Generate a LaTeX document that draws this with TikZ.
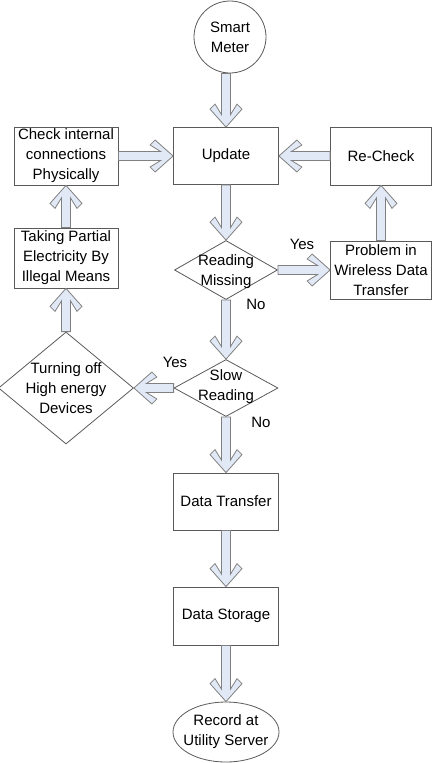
\documentclass[tikz,border=0pt]{standalone}
\usepackage{fontspec}
\setmainfont{Liberation Sans}
\usetikzlibrary{calc,shapes.geometric}
\definecolor{arrowfill}{RGB}{226,233,246}
\definecolor{arrowline}{RGB}{128,128,128}
\definecolor{boxline}{RGB}{90,90,90}

% hollow block arrow with a chevron head, from #1 to #2
\newcommand{\blockarrow}[2]{%
  \draw[blockarrow] ($(#1)!4.5pt!90:(#2)$) -- ($(#2)!12.5pt!(#1)!4.5pt!-90:(#1)$)
    -- ($(#2)!23pt!(#1)!11pt!-90:(#1)$) -- ($(#2)!18pt!(#1)!16pt!-90:(#1)$)
    -- (#2)
    -- ($(#2)!18pt!(#1)!16pt!90:(#1)$) -- ($(#2)!23pt!(#1)!11pt!90:(#1)$)
    -- ($(#2)!12.5pt!(#1)!4.5pt!90:(#1)$) -- ($(#1)!4.5pt!-90:(#2)$) -- cycle;}

\begin{document}
\begin{tikzpicture}[x=1pt, y=-1pt,
    txt/.style={font=\fontsize{15}{20}\selectfont, align=center},
    box/.style={txt, draw=boxline, line width=0.8pt, minimum height=58pt, inner sep=1pt},
    decision/.style={diamond, draw=boxline, line width=0.8pt, inner sep=0pt},
    blockarrow/.style={draw=arrowline, fill=arrowfill, line width=0.8pt, line join=miter}]
    \useasboundingbox (0,0) rectangle (436,763);

    % Start
    \node[circle, draw=boxline, line width=0.8pt, minimum size=72pt, inner sep=0pt, txt] (meter) at (230,37) {Smart\\Meter};

    % Top row
    \node[box, minimum width=104pt] (check) at (66,156) {Check internal\\connections\\Physically};
    \node[box, minimum width=105pt, minimum height=57pt] (update) at (226,156) {Update};
    \node[box, minimum width=101pt] (recheck) at (381,156) {Re-Check};

    % Reading missing
    \node[box, minimum width=104pt, minimum height=60pt] (taking) at (66,258) {Taking Partial\\Electricity By\\Illegal Means};
    \node[decision, minimum width=103pt, minimum height=59pt] (miss) at (226,270) {};
    \node[txt] (misstext) at (226,272) {Reading\\Missing};
    \node[box, minimum width=101pt] (problem) at (381,270) {Problem in\\Wireless Data\\Transfer};

    % Slow reading
    \node[decision, minimum width=135pt, minimum height=112pt] (turn) at (66,388) {};
    \node[txt] (turntext) at (66,388) {Turning off\\High energy\\Devices};
    \node[decision, minimum width=104pt, minimum height=57pt] (slow) at (226,388) {};
    \node[txt] (slowtext) at (226,387) {Slow\\Reading};

    % Lower column
    \node[box, minimum width=105pt, minimum height=57pt] (transfer) at (226,501.5) {Data Transfer};
    \node[box, minimum width=105pt] (storage) at (226,616) {Data Storage};
    \node[ellipse, draw=boxline, line width=0.8pt, minimum width=106pt, minimum height=60pt, inner sep=0pt] (record) at (226,732) {};
    \node[txt] (recordtext) at (226,732) {Record at\\Utility Server};

    % Branch labels
    \node[txt] (yesmiss) at (302,244) {Yes};
    \node[txt] (nomiss) at (256,304) {No};
    \node[txt] (yesslow) at (175,362) {Yes};
    \node[txt] (noslow) at (261,422) {No};

    % Arrows
    \blockarrow{meter.south -| update.north}{update.north}
    \blockarrow{check.east}{update.west}
    \blockarrow{recheck.west}{update.east}
    \blockarrow{update.south}{miss.north}
    \blockarrow{miss.east}{problem.west}
    \blockarrow{problem.north}{recheck.south}
    \blockarrow{miss.south}{slow.north}
    \blockarrow{slow.west}{turn.east}
    \blockarrow{turn.north}{taking.south}
    \blockarrow{taking.north}{check.south}
    \blockarrow{slow.south}{transfer.north}
    \blockarrow{transfer.south}{storage.north}
    \blockarrow{storage.south}{record.north}
\end{tikzpicture}
\end{document}
